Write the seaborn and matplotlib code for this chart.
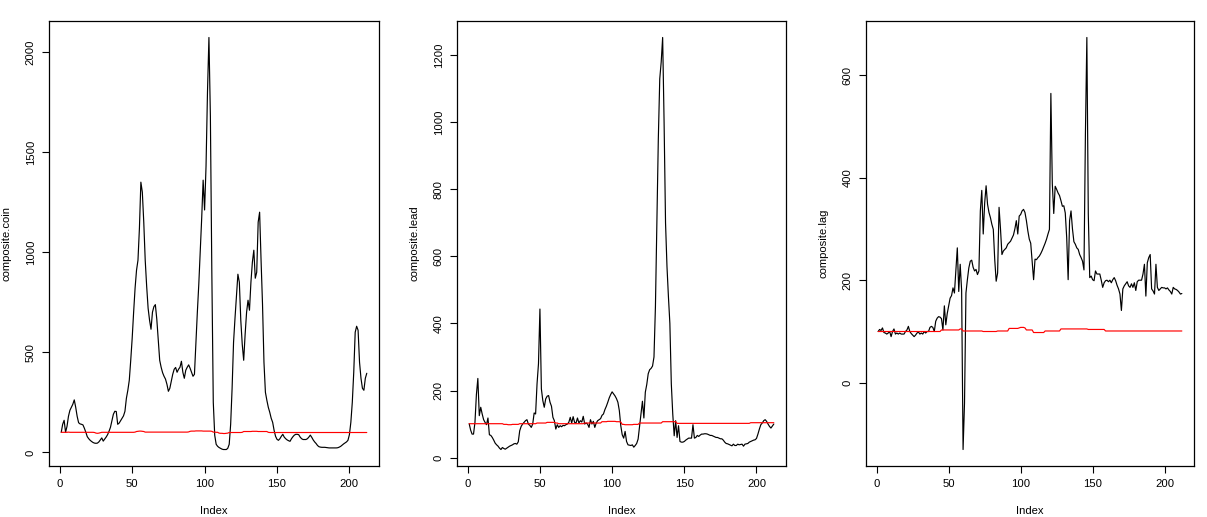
import matplotlib
matplotlib.use("Agg")
import matplotlib.pyplot as plt
import seaborn as sns

# ---------------- data ----------------
index = list(range(1, 213))

coin = [
    100, 140, 160, 100, 130, 180, 210, 225, 240, 262,
    225, 180, 148, 142, 140, 137, 120, 100, 78, 68,
    60, 54, 49, 46, 45, 46, 52, 62, 72, 56,
    66, 76, 88, 105, 125, 158, 190, 205, 204, 140,
    146, 158, 170, 182, 205, 270, 310, 360, 460, 570,
    700, 820, 910, 960, 1120, 1350, 1300, 1150, 960, 830,
    720, 660, 615, 700, 728, 738, 665, 560, 460, 425,
    398, 380, 366, 340, 305, 320, 355, 390, 415, 424,
    400, 415, 425, 455, 400, 370, 410, 425, 437, 420,
    400, 380, 390, 550, 700, 840, 1000, 1170, 1360, 1211,
    1430, 1800, 2073, 1680, 900, 250, 85, 40, 30, 24,
    20, 16, 14, 14, 14, 20, 40, 140, 320, 550,
    670, 780, 890, 850, 660, 540, 460, 590, 700, 760,
    710, 850, 950, 1010, 870, 900, 1150, 1200, 960, 740,
    450, 300, 260, 225, 200, 170, 150, 110, 80, 65,
    60, 68, 80, 90, 76, 68, 62, 58, 55, 68,
    78, 86, 90, 90, 88, 76, 68, 64, 64, 64,
    68, 76, 86, 75, 62, 52, 44, 34, 28, 26,
    25, 25, 25, 24, 23, 22, 22, 22, 22, 22,
    22, 23, 26, 30, 36, 42, 47, 52, 60, 88,
    150, 250, 400, 600, 630, 610, 450, 370, 320, 310,
    370, 395,
]

coin_ref = [
    100, 100, 100, 100, 100, 101, 100, 100, 100, 100,
    100, 100, 100, 100, 100, 100, 100, 100, 100, 100,
    100, 100, 100, 99, 96, 95, 96, 98, 100, 100,
    100, 100, 100, 100, 100, 100, 100, 100, 100, 100,
    100, 100, 100, 100, 100, 100, 100, 100, 100, 100,
    100, 101, 104, 105, 106, 106, 105, 104, 101, 101,
    101, 101, 101, 101, 101, 101, 101, 101, 101, 101,
    101, 101, 101, 101, 101, 101, 101, 101, 101, 101,
    101, 101, 101, 101, 101, 101, 101, 101, 102, 105,
    106, 106, 106, 107, 107, 107, 107, 107, 106, 106,
    106, 106, 106, 106, 105, 101, 101, 100, 100, 96,
    95, 95, 94, 94, 95, 96, 99, 99, 99, 99,
    99, 99, 99, 99, 99, 100, 104, 104, 104, 104,
    104, 104, 105, 105, 105, 105, 104, 104, 104, 104,
    104, 104, 104, 100, 99, 99, 99, 99, 99, 99,
    99, 99, 99, 99, 99, 99, 99, 99, 99, 99,
    99, 99, 99, 99, 99, 99, 99, 99, 99, 99,
    99, 99, 99, 99, 99, 99, 99, 99, 99, 99,
    99, 99, 99, 99, 99, 99, 99, 99, 99, 99,
    99, 99, 99, 99, 99, 99, 99, 99, 99, 99,
    99, 99, 99, 99, 99, 99, 99, 99, 99, 99,
    99, 99,
]

lead = [
    101, 82, 70, 70, 105, 188, 236, 125, 150, 130,
    113, 105, 98, 118, 68, 66, 60, 52, 43, 38,
    34, 28, 24, 30, 27, 25, 28, 31, 34, 36,
    38, 41, 42, 40, 47, 80, 93, 100, 105, 110,
    113, 100, 96, 90, 100, 133, 130, 220, 280, 443,
    205, 170, 150, 175, 183, 185, 165, 153, 120, 110,
    85, 98, 90, 95, 92, 96, 95, 98, 100, 105,
    120, 103, 122, 105, 103, 118, 103, 110, 106, 123,
    100, 103, 100, 90, 113, 100, 108, 90, 103, 110,
    113, 116, 126, 130, 143, 153, 165, 178, 188, 196,
    190, 184, 176, 165, 140, 95, 68, 58, 78, 48,
    38, 37, 36, 38, 31, 36, 42, 55, 92, 130,
    168, 118, 195, 218, 250, 262, 266, 273, 300, 450,
    700, 950, 1130, 1180, 1253, 1000, 700, 570, 480, 400,
    220, 130, 65, 110, 60, 95, 48, 46, 46, 48,
    52, 55, 58, 58, 58, 98, 58, 60, 66, 63,
    67, 70, 70, 71, 71, 70, 68, 66, 66, 64,
    62, 60, 60, 58, 56, 56, 52, 46, 42, 41,
    39, 37, 35, 40, 36, 36, 40, 38, 39, 40,
    34, 40, 41, 42, 46, 48, 50, 52, 53, 57,
    70, 85, 98, 103, 110, 113, 108, 100, 93, 88,
    94, 100,
]

lead_ref = [
    101, 101, 101, 101, 101, 101, 101, 101, 101, 101,
    101, 101, 101, 101, 101, 101, 101, 101, 101, 101,
    101, 101, 101, 101, 99, 99, 99, 98, 98, 98,
    99, 99, 99, 99, 99, 101, 101, 101, 101, 101,
    101, 101, 101, 101, 101, 101, 101, 103, 103, 103,
    103, 103, 103, 103, 105, 105, 105, 105, 105, 105,
    103, 103, 101, 101, 101, 101, 101, 101, 101, 101,
    101, 101, 101, 101, 101, 101, 101, 101, 101, 101,
    103, 103, 103, 103, 103, 103, 103, 103, 103, 103,
    103, 103, 107, 107, 107, 107, 108, 108, 108, 108,
    108, 108, 107, 107, 107, 106, 99, 99, 98, 98,
    98, 98, 98, 98, 99, 99, 99, 99, 103, 103,
    103, 103, 103, 103, 103, 103, 103, 103, 103, 103,
    103, 103, 103, 103, 107, 107, 107, 107, 107, 107,
    107, 107, 107, 107, 102, 102, 102, 102, 102, 102,
    102, 102, 102, 102, 102, 102, 102, 102, 102, 102,
    102, 102, 102, 102, 102, 102, 102, 102, 102, 102,
    102, 102, 102, 102, 102, 102, 102, 102, 102, 102,
    102, 102, 102, 102, 102, 102, 102, 102, 102, 102,
    102, 102, 102, 102, 102, 104, 104, 104, 104, 104,
    104, 104, 104, 104, 104, 104, 104, 104, 104, 104,
    104, 104,
]

lag = [
    100, 104, 102, 107, 98, 97, 95, 97, 100, 90,
    100, 105, 95, 97, 95, 97, 95, 95, 95, 100,
    103, 110, 100, 96, 93, 90, 93, 97, 99, 95,
    97, 95, 100, 97, 100, 100, 108, 110, 108, 100,
    120, 126, 129, 128, 125, 103, 150, 113, 135, 150,
    165, 170, 185, 175, 218, 263, 178, 231, 180, -130,
    -40, 175, 201, 224, 237, 239, 225, 218, 221, 211,
    218, 335, 375, 290, 350, 384, 348, 332, 322, 309,
    299, 240, 198, 214, 342, 300, 250, 257, 260, 263,
    270, 273, 276, 282, 288, 300, 316, 290, 325, 328,
    335, 338, 332, 316, 296, 280, 272, 237, 201, 241,
    240, 244, 247, 252, 258, 265, 272, 280, 290, 299,
    564, 388, 330, 383, 377, 370, 365, 355, 344, 345,
    331, 283, 201, 316, 335, 300, 275, 270, 263, 260,
    250, 244, 237, 220, 485, 673, 329, 205, 208, 201,
    199, 218, 212, 212, 212, 200, 186, 195, 199, 200,
    197, 200, 195, 201, 205, 199, 190, 183, 173, 141,
    183, 189, 193, 197, 189, 186, 193, 186, 195, 180,
    197, 200, 200, 200, 212, 231, 169, 234, 244, 250,
    183, 179, 173, 231, 186, 180, 183, 186, 185, 185,
    183, 185, 181, 178, 173, 186, 183, 182, 180, 177,
    173, 174,
]

lag_ref = [
    100, 100, 100, 100, 100, 100, 100, 100, 100, 100,
    100, 100, 100, 100, 100, 100, 100, 100, 100, 100,
    100, 100, 100, 100, 100, 100, 100, 100, 100, 100,
    100, 100, 100, 100, 100, 100, 100, 100, 100, 100,
    100, 100, 100, 100, 103, 103, 103, 103, 103, 103,
    103, 103, 103, 103, 103, 103, 103, 105, 105, 101,
    101, 101, 101, 101, 101, 101, 101, 101, 101, 101,
    101, 101, 101, 100, 100, 100, 100, 100, 100, 100,
    100, 100, 100, 101, 101, 101, 101, 101, 101, 101,
    101, 106, 106, 106, 106, 106, 106, 106, 107, 108,
    108, 108, 107, 103, 103, 103, 103, 103, 98, 98,
    98, 98, 98, 98, 98, 98, 101, 101, 101, 101,
    101, 101, 101, 101, 101, 101, 101, 105, 105, 105,
    105, 105, 105, 105, 105, 105, 105, 105, 105, 105,
    105, 105, 105, 105, 105, 105, 104, 104, 104, 104,
    104, 104, 104, 104, 104, 104, 104, 104, 101, 101,
    101, 101, 101, 101, 101, 101, 101, 101, 101, 101,
    101, 101, 101, 101, 101, 101, 101, 101, 101, 101,
    101, 101, 101, 101, 101, 101, 101, 101, 101, 101,
    101, 101, 101, 101, 101, 101, 101, 101, 101, 101,
    101, 101, 101, 101, 101, 101, 101, 101, 101, 101,
    101, 101,
]

ylabels = ["composite.coin", "composite.lead", "composite.lag"]
yticks = [[0, 500, 1000, 1500, 2000],
          [0, 200, 400, 600, 800, 1000, 1200],
          [0, 200, 400, 600]]
xticks = [0, 50, 100, 150, 200]

# ---------------- style ----------------
sns.set_theme(style="white")
plt.rcParams['font.family'] = ['Liberation Sans', 'DejaVu Sans']
plt.rcParams['axes.edgecolor'] = 'black'

W, H = 1207, 517
fig = plt.figure(figsize=(W / 100, H / 100), dpi=100)

boxes = [(49, 330), (457, 329), (866, 328)]
panels = [(coin, coin_ref), (lead, lead_ref), (lag, lag_ref)]
FS = 8.1

for k, ((left, width), (vals, ref)) in enumerate(zip(boxes, panels)):
    ax = fig.add_axes([left / W, 51 / H, width / W, 445 / H])
    sns.lineplot(x=index, y=vals, color='black', linewidth=0.85, ax=ax)
    sns.lineplot(x=index, y=ref, color='red', linewidth=0.85, ax=ax)

    n = len(index)
    xr = (n - 1) * 0.04
    ax.set_xlim(index[0] - xr, index[-1] + xr)
    lo = min(min(vals), min(ref))
    hi = max(max(vals), max(ref))
    yr = (hi - lo) * 0.04
    ax.set_ylim(lo - yr, hi + yr)

    ax.set_xticks(xticks)
    ax.set_yticks(yticks[k])
    ax.tick_params(axis='both', direction='out', length=5, width=0.8,
                   labelsize=FS, pad=4.5, colors='black',
                   bottom=True, left=True, top=False, right=False)
    for lab in ax.get_yticklabels():
        lab.set_rotation(90)
        lab.set_va('center')
    ax.set_xlabel('Index', fontsize=FS, labelpad=12, color='black')
    ax.set_ylabel(ylabels[k], fontsize=FS, labelpad=10, color='black')
    for s in ax.spines.values():
        s.set_color('black')
        s.set_linewidth(0.9)
    ax.grid(False)

fig.savefig('out.png', dpi=100)
